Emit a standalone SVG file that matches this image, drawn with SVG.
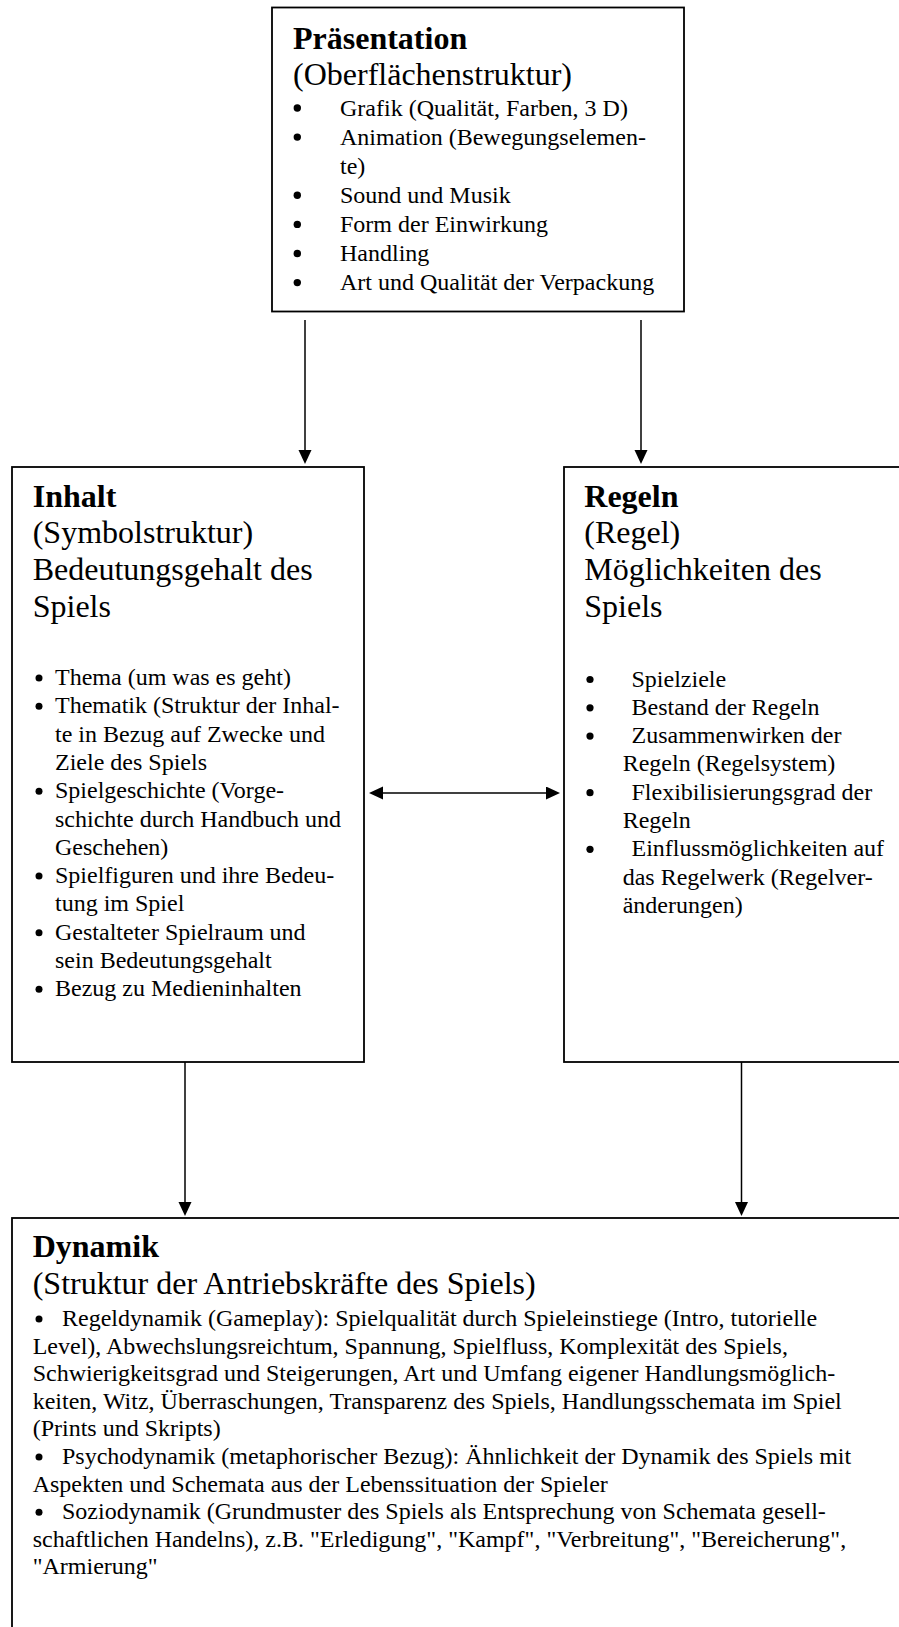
<svg xmlns="http://www.w3.org/2000/svg" width="899" height="1627" viewBox="0 0 899 1627">
  <style>
    .box { fill: #ffffff; stroke: #000000; stroke-width: 1.8; }
    .conn { stroke: #000000; stroke-width: 1.5; fill: none; }
    .dot { fill: #000000; }
    text { font-family: "Liberation Serif", "Times New Roman", serif; fill: #000000; }
    .title { font-size: 32px; font-weight: bold; }
    .sub { font-size: 32px; }
    .item { font-size: 24px; }
  </style>
  <defs>
    <marker id="arrow" markerUnits="userSpaceOnUse" markerWidth="15" markerHeight="14" refX="0" refY="6.5" orient="auto-start-reverse">
      <path d="M0,0 L14,6.5 L0,13 Z" fill="#000000"/>
    </marker>
  </defs>
  <rect x="0" y="0" width="899" height="1627" fill="#ffffff"/>

  <!-- Connectors -->
  <g id="connectors">
    <line class="conn" x1="305" y1="320" x2="305" y2="450" marker-end="url(#arrow)"/>
    <line class="conn" x1="641" y1="320" x2="641" y2="450" marker-end="url(#arrow)"/>
    <line class="conn" x1="383" y1="793" x2="546" y2="793" marker-start="url(#arrow)" marker-end="url(#arrow)"/>
    <line class="conn" x1="185" y1="1062" x2="185" y2="1202" marker-end="url(#arrow)"/>
    <line class="conn" x1="741.5" y1="1062" x2="741.5" y2="1202" marker-end="url(#arrow)"/>
  </g>

  <!-- Presentation layer -->
  <g id="praesentation">
    <rect class="box" x="272" y="7.5" width="412" height="304"/>
    <text class="title" x="293" y="49">Präsentation</text>
    <text class="sub" x="293" y="85">(Oberflächenstruktur)</text>
    <circle class="dot" cx="297.3" cy="108" r="3.7"/>
    <text class="item" x="340" y="115.5">Grafik (Qualität, Farben, 3 D)</text>
    <circle class="dot" cx="297.3" cy="137.1" r="3.7"/>
    <text class="item" x="340" y="144.6">Animation (Bewegungselemen-</text>
    <text class="item" x="340" y="173.7">te)</text>
    <circle class="dot" cx="297.3" cy="195.3" r="3.7"/>
    <text class="item" x="340" y="202.8">Sound und Musik</text>
    <circle class="dot" cx="297.3" cy="224.4" r="3.7"/>
    <text class="item" x="340" y="231.9">Form der Einwirkung</text>
    <circle class="dot" cx="297.3" cy="253.5" r="3.7"/>
    <text class="item" x="340" y="261">Handling</text>
    <circle class="dot" cx="297.3" cy="282.6" r="3.7"/>
    <text class="item" x="340" y="290.1">Art und Qualität der Verpackung</text>
  </g>

  <!-- Content layer -->
  <g id="inhalt">
    <rect class="box" x="12" y="467" width="352" height="595"/>
    <text class="title" x="32.7" y="506.5">Inhalt</text>
    <text class="sub" x="32.7" y="543.3">(Symbolstruktur)</text>
    <text class="sub" x="32.7" y="580.1">Bedeutungsgehalt des</text>
    <text class="sub" x="32.7" y="616.9">Spiels</text>
    <circle class="dot" cx="39" cy="678" r="3.5"/>
    <text class="item" x="55" y="685">Thema (um was es geht)</text>
    <circle class="dot" cx="39" cy="706.3" r="3.5"/>
    <text class="item" x="55" y="713.3">Thematik (Struktur der Inhal-</text>
    <text class="item" x="55" y="741.6">te in Bezug auf Zwecke und</text>
    <text class="item" x="55" y="769.9">Ziele des Spiels</text>
    <circle class="dot" cx="39" cy="791.2" r="3.5"/>
    <text class="item" x="55" y="798.2">Spielgeschichte (Vorge-</text>
    <text class="item" x="55" y="826.5">schichte durch Handbuch und</text>
    <text class="item" x="55" y="854.8">Geschehen)</text>
    <circle class="dot" cx="39" cy="876.1" r="3.5"/>
    <text class="item" x="55" y="883.1">Spielfiguren und ihre Bedeu-</text>
    <text class="item" x="55" y="911.4">tung im Spiel</text>
    <circle class="dot" cx="39" cy="932.7" r="3.5"/>
    <text class="item" x="55" y="939.7">Gestalteter Spielraum und</text>
    <text class="item" x="55" y="968">sein Bedeutungsgehalt</text>
    <circle class="dot" cx="39" cy="989.3" r="3.5"/>
    <text class="item" x="55" y="996.3">Bezug zu Medieninhalten</text>
  </g>

  <!-- Rules layer -->
  <g id="regeln">
    <rect class="box" x="564" y="467" width="350" height="595"/>
    <text class="title" x="584.3" y="506.5">Regeln</text>
    <text class="sub" x="584.3" y="543.3">(Regel)</text>
    <text class="sub" x="584.3" y="580.1">Möglichkeiten des</text>
    <text class="sub" x="584.3" y="616.9">Spiels</text>
    <circle class="dot" cx="590" cy="679.5" r="3.6"/>
    <text class="item" x="631.5" y="686.5">Spielziele</text>
    <circle class="dot" cx="590" cy="707.8" r="3.6"/>
    <text class="item" x="631.5" y="714.8">Bestand der Regeln</text>
    <circle class="dot" cx="590" cy="736.1" r="3.6"/>
    <text class="item" x="631.5" y="743.1">Zusammenwirken der</text>
    <text class="item" x="622.7" y="771.4">Regeln (Regelsystem)</text>
    <circle class="dot" cx="590" cy="792.7" r="3.6"/>
    <text class="item" x="631.5" y="799.7">Flexibilisierungsgrad der</text>
    <text class="item" x="622.7" y="828">Regeln</text>
    <circle class="dot" cx="590" cy="849.3" r="3.6"/>
    <text class="item" x="631.5" y="856.3">Einflussmöglichkeiten auf</text>
    <text class="item" x="622.7" y="884.6">das Regelwerk (Regelver-</text>
    <text class="item" x="622.7" y="912.9">änderungen)</text>
  </g>

  <!-- Dynamics layer -->
  <g id="dynamik">
    <rect class="box" x="12" y="1218" width="900" height="430"/>
    <text class="title" x="32.7" y="1257">Dynamik</text>
    <text class="sub" x="32.7" y="1294">(Struktur der Antriebskräfte des Spiels)</text>
    <circle class="dot" cx="39" cy="1319" r="3.5"/>
    <text class="item" x="62" y="1326">Regeldynamik (Gameplay): Spielqualität durch Spieleinstiege (Intro, tutorielle</text>
    <text class="item" x="32.7" y="1353.6">Level), Abwechslungsreichtum, Spannung, Spielfluss, Komplexität des Spiels,</text>
    <text class="item" x="32.7" y="1381.2">Schwierigkeitsgrad und Steigerungen, Art und Umfang eigener Handlungsmöglich-</text>
    <text class="item" x="32.7" y="1408.8">keiten, Witz, Überraschungen, Transparenz des Spiels, Handlungsschemata im Spiel</text>
    <text class="item" x="32.7" y="1436.4">(Prints und Skripts)</text>
    <circle class="dot" cx="39" cy="1457" r="3.5"/>
    <text class="item" x="62" y="1464">Psychodynamik (metaphorischer Bezug): Ähnlichkeit der Dynamik des Spiels mit</text>
    <text class="item" x="32.7" y="1491.6">Aspekten und Schemata aus der Lebenssituation der Spieler</text>
    <circle class="dot" cx="39" cy="1512.2" r="3.5"/>
    <text class="item" x="62" y="1519.2">Soziodynamik (Grundmuster des Spiels als Entsprechung von Schemata gesell-</text>
    <text class="item" x="32.7" y="1546.8">schaftlichen Handelns), z.B. "Erledigung", "Kampf", "Verbreitung", "Bereicherung",</text>
    <text class="item" x="32.7" y="1574.4">"Armierung"</text>
  </g>
</svg>
